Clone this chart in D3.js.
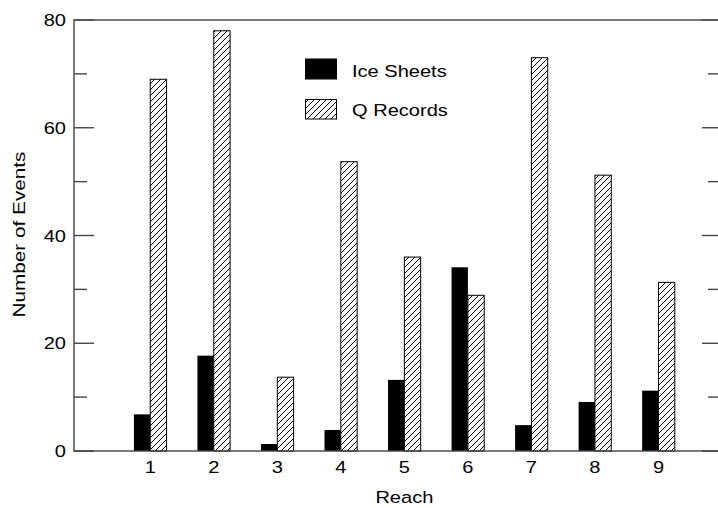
<!DOCTYPE html>
<html>
<head>
<meta charset="utf-8">
<script src="https://cdn.jsdelivr.net/npm/d3@7"></script>
<style>
  html, body { margin: 0; padding: 0; background: #fff; }
  svg { display: block; font-family: "Liberation Sans", Arial, Helvetica, sans-serif; }
</style>
</head>
<body>
<svg id="chart" width="718" height="508"></svg>
<script>
// ---- data ----
const reaches = [1, 2, 3, 4, 5, 6, 7, 8, 9];
const iceSheets = [6.8, 17.7, 1.3, 3.9, 13.2, 34.1, 4.8, 9.1, 11.2];
const qRecords = [69.0, 78.0, 13.7, 53.7, 36.0, 28.9, 73.0, 51.2, 31.3];
const yMajorTicks = [0, 20, 40, 60, 80];
const yMinorTicks = [10, 30, 50, 70];
const seriesNames = ["Ice Sheets", "Q Records"];
const xLabel = "Reach";
const yLabel = "Number of Events";

(function () {
// ---- layout ----
const svg = d3.select("#chart");
const pL = 74, pR = 722, pT = 20, pB = 451;
const stretch = 1.18;
const fs = 17;

const x = d3.scaleLinear().domain([-0.2, 10]).range([pL, pR]);
const y = d3.scaleLinear().domain([0, 80]).range([pB, pT]);
const barW = x(0.257) - x(0);

// hatch pattern
const defs = svg.append("defs");
const pat = defs.append("pattern")
  .attr("id", "hatch").attr("patternUnits", "userSpaceOnUse")
  .attr("width", 6).attr("height", 6);
pat.append("rect").attr("width", 6).attr("height", 6).attr("fill", "#fff");
pat.append("path").attr("d", "M-1,1 L1,-1 M0,6 L6,0 M5,7 L7,5")
  .attr("stroke", "#000").attr("stroke-width", 1);

// bars
svg.append("g").selectAll("rect").data(reaches).join("rect")
  .attr("x", (d) => x(d) - barW)
  .attr("y", (d, i) => y(iceSheets[i]))
  .attr("width", barW)
  .attr("height", (d, i) => y(0) - y(iceSheets[i]))
  .attr("fill", "#000");

svg.append("g").selectAll("rect").data(reaches).join("rect")
  .attr("x", (d) => x(d))
  .attr("y", (d, i) => y(qRecords[i]))
  .attr("width", barW)
  .attr("height", (d, i) => y(0) - y(qRecords[i]))
  .attr("fill", "url(#hatch)")
  .attr("stroke", "#000").attr("stroke-width", 1);

// frame
const axisColor = "#444";
svg.append("rect")
  .attr("x", pL).attr("y", pT)
  .attr("width", pR - pL).attr("height", pB - pT)
  .attr("fill", "none").attr("stroke", axisColor).attr("stroke-width", 1.4);

// ticks (inward, left & right)
const tickG = svg.append("g").attr("stroke", axisColor).attr("stroke-width", 1.4);
yMajorTicks.forEach(v => {
  tickG.append("line").attr("x1", pL).attr("x2", pL + 20).attr("y1", y(v)).attr("y2", y(v));
  tickG.append("line").attr("x1", pR - 20).attr("x2", pR).attr("y1", y(v)).attr("y2", y(v));
});
yMinorTicks.forEach(v => {
  tickG.append("line").attr("x1", pL).attr("x2", pL + 13).attr("y1", y(v)).attr("y2", y(v));
  tickG.append("line").attr("x1", pR - 14).attr("x2", pR).attr("y1", y(v)).attr("y2", y(v));
});

function stext(g, tx, ty, str, anchor, rot, st) {
  return g.append("text")
    .attr("transform", `translate(${tx},${ty})${rot ? " rotate(" + rot + ")" : ""} scale(${st || stretch},1)`)
    .attr("text-anchor", anchor)
    .attr("font-size", fs)
    .attr("fill", "#000")
    .text(str);
}

// y tick labels
const labG = svg.append("g");
yMajorTicks.forEach(v => stext(labG, 66, y(v) + 6, String(v), "end"));
// x tick labels
reaches.forEach(r => stext(labG, x(r), 473, String(r), "middle"));

// axis titles
stext(labG, x(5), 503, xLabel, "middle");
stext(labG, 25, 234.5, yLabel, "middle", -90, 1.22);

// legend
const lg = svg.append("g");
lg.append("rect").attr("x", 305).attr("y", 58.5).attr("width", 32).attr("height", 21).attr("fill", "#000");
lg.append("rect").attr("x", 305.5).attr("y", 99.5).attr("width", 31).attr("height", 19.5)
  .attr("fill", "url(#hatch)").attr("stroke", "#000").attr("stroke-width", 1);
stext(lg, 352, 76.5, seriesNames[0], "start");
stext(lg, 352, 116, seriesNames[1], "start");
})();
</script>
</body>
</html>
